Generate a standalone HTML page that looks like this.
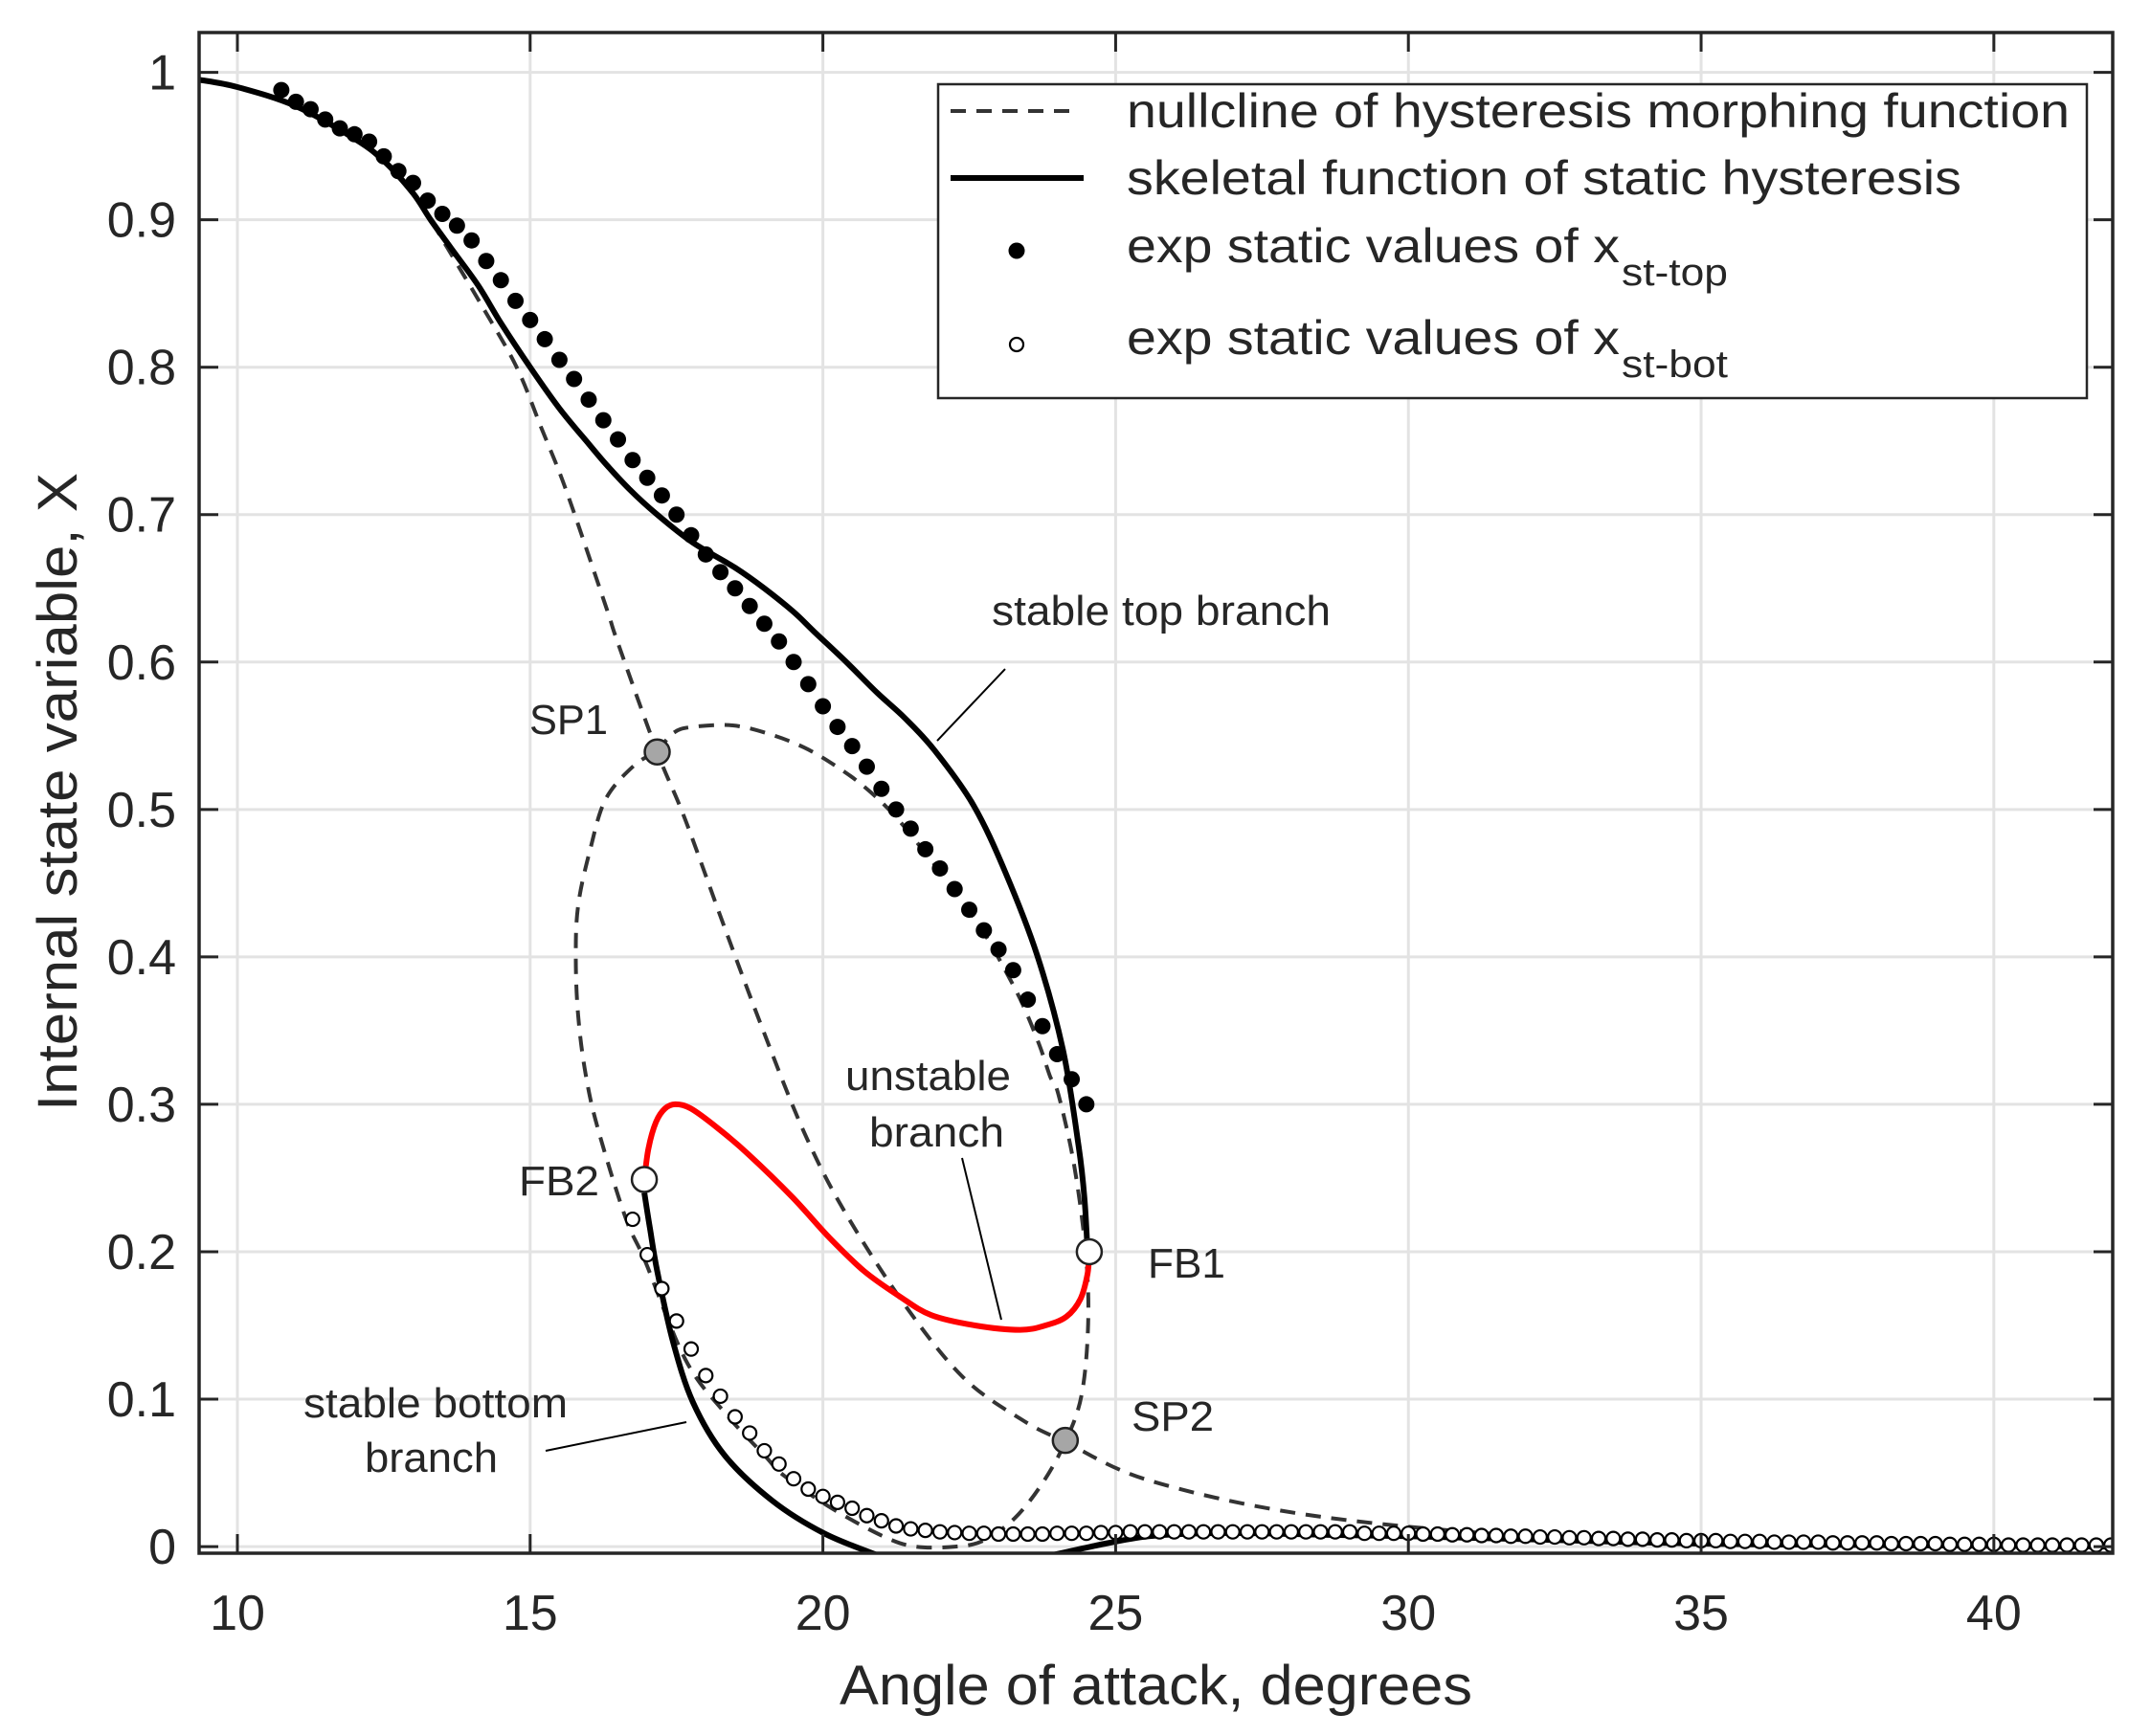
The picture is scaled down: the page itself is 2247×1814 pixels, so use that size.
<!DOCTYPE html>
<html><head><meta charset="utf-8"><style>
html,body{margin:0;padding:0;background:#fff}
svg{display:block}
text{font-family:"Liberation Sans",Arial,sans-serif;fill:#262626}
</style></head><body>
<svg id="chart" width="2247" height="1814" viewBox="0 0 2247 1814" xmlns="http://www.w3.org/2000/svg">
<defs><clipPath id="plotclip"><rect x="208" y="34" width="1999" height="1589"/></clipPath></defs>
<g id="grid"></g>
<g id="series" clip-path="url(#plotclip)"></g>
<g id="axes"></g>
</svg>
<script>
// ---- data ----
const xTicks = [10,15,20,25,30,35,40];
const yTicks = [0,0.1,0.2,0.3,0.4,0.5,0.6,0.7,0.8,0.9,1];
const yTickLabels = ["0","0.1","0.2","0.3","0.4","0.5","0.6","0.7","0.8","0.9","1"];

const topDotX = [10.75,11,11.25,11.5,11.75,12,12.25,12.5,12.75,13,13.25,13.5,13.75,14,14.25,14.5,14.75,15,15.25,15.5,15.75,16,16.25,16.5,16.75,17,17.25,17.5,17.75,18,18.25,18.5,18.75,19,19.25,19.5,19.75,20,20.25,20.5,20.75,21,21.25,21.5,21.75,22,22.25,22.5,22.75,23,23.25,23.5,23.75,24,24.25,24.5];
const topDotY = [0.988,0.980,0.975,0.968,0.962,0.958,0.953,0.943,0.933,0.925,0.913,0.904,0.896,0.886,0.872,0.859,0.845,0.832,0.819,0.805,0.792,0.778,0.764,0.751,0.737,0.725,0.713,0.700,0.686,0.673,0.661,0.650,0.638,0.626,0.614,0.600,0.585,0.570,0.556,0.543,0.529,0.514,0.500,0.487,0.473,0.460,0.446,0.432,0.418,0.405,0.391,0.371,0.353,0.334,0.317,0.300];

const botDotX = [16.75,17,17.25,17.5,17.75,18,18.25,18.5,18.75,19,19.25,19.5,19.75,20,20.25,20.5,20.75,21,21.25,21.5,21.75,22,22.25,22.5,22.75,23,23.25,23.5,23.75,24,24.25,24.5,24.75,25,25.25,25.5,25.75,26,26.25,26.5,26.75,27,27.25,27.5,27.75,28,28.25,28.5,28.75,29,29.25,29.5,29.75,30,30.25,30.5,30.75,31,31.25,31.5,31.75,32,32.25,32.5,32.75,33,33.25,33.5,33.75,34,34.25,34.5,34.75,35,35.25,35.5,35.75,36,36.25,36.5,36.75,37,37.25,37.5,37.75,38,38.25,38.5,38.75,39,39.25,39.5,39.75,40,40.25,40.5,40.75,41,41.25,41.5,41.75,42];
const botDotY = [0.222,0.198,0.175,0.153,0.134,0.116,0.102,0.088,0.077,0.065,0.056,0.046,0.039,0.034,0.030,0.026,0.021,0.0175,0.014,0.012,0.011,0.010,0.0095,0.009,0.009,0.0085,0.0085,0.0085,0.0085,0.009,0.009,0.009,0.0095,0.0095,0.010,0.010,0.010,0.010,0.010,0.010,0.010,0.010,0.010,0.010,0.010,0.010,0.010,0.010,0.010,0.010,0.009,0.009,0.009,0.009,0.0085,0.0085,0.008,0.008,0.0075,0.0075,0.007,0.007,0.0065,0.0065,0.006,0.006,0.0055,0.0055,0.005,0.005,0.0045,0.0045,0.004,0.004,0.004,0.0035,0.0035,0.0035,0.003,0.003,0.003,0.003,0.0025,0.0025,0.0025,0.0025,0.002,0.002,0.002,0.002,0.0015,0.0015,0.0015,0.0015,0.001,0.001,0.001,0.001,0.001,0.001,0.001,0.001];

const skelTopX = [9.35,10,11,12,12.5,13,13.3,13.7,14.12,14.5,15,15.5,16,16.3,16.7,17.17,17.78,18.5,19,19.5,19.84,20.4,20.93,21.4,21.91,22.57,23.11,23.66,24.1,24.37,24.47,24.52];
const skelTopY = [0.995,0.99,0.977,0.955,0.94,0.918,0.9,0.878,0.855,0.83,0.80,0.772,0.748,0.734,0.717,0.70,0.681,0.664,0.65,0.634,0.621,0.6,0.579,0.562,0.54,0.503,0.458,0.401,0.337,0.271,0.235,0.2];

const skelBotX = [16.95,17.05,17.17,17.44,17.78,18.32,19.14,20.02,20.94];
const skelBotY = [0.24,0.215,0.187,0.139,0.098,0.062,0.031,0.009,-0.006];

const skelLowX = [23.9,24.7,25.56,26.5,27.5,28.5,30,32,35,38,42.1];
const skelLowY = [-0.006,0.001,0.007,0.009,0.009,0.008,0.007,0.005,0.002,0.001,0.0];

const unstX = [16.95,17.02,17.15,17.3,17.48,17.75,18.2,18.73,19.48,20.1,20.7,21.3,21.85,22.6,23.37,23.8,24.16,24.4,24.52,24.55];
const unstY = [0.249,0.27,0.288,0.297,0.3,0.297,0.284,0.266,0.237,0.21,0.187,0.17,0.157,0.15,0.147,0.15,0.156,0.168,0.185,0.2];

const null1X = [12.5,13,13.3,13.6,14.2,14.77,15.2,15.62,16.3,16.49,17.17,17.65,18.32,19.0,19.68,20.36,21.38,22.39,23.4,24.14,25.56,28.2,31.7,35,42.1];
const null1Y = [0.94,0.918,0.9,0.88,0.84,0.80,0.758,0.716,0.637,0.614,0.539,0.493,0.42,0.348,0.281,0.228,0.165,0.115,0.086,0.071,0.045,0.022,0.008,0.004,0.001];

const null2X = [17.17,17.45,17.78,18.46,19.1,19.68,20.2,20.69,21.2,21.72,22.25,22.74,23.1,23.41,23.7,23.88,24.02,24.29,24.49,24.53,24.42,24.14,23.75,23.27,22.74,22.26,21.58,21.03,20.15,19.34,19.0,18.32,17.65,16.96,16.63,16.16,15.95,15.82,15.78,15.82,16.02,16.29,16.78,17.17];
const null2Y = [0.539,0.552,0.556,0.557,0.551,0.542,0.53,0.516,0.497,0.472,0.445,0.417,0.392,0.368,0.34,0.319,0.307,0.259,0.199,0.151,0.103,0.071,0.043,0.019,0.004,0.0,0.0,0.007,0.026,0.048,0.062,0.091,0.127,0.194,0.223,0.283,0.32,0.36,0.40,0.435,0.472,0.507,0.53,0.539];

const spX = [17.17,24.14];
const spY = [0.539,0.072];
const fbX = [24.55,16.95];
const fbY = [0.2,0.249];

// ---- scales ----
const X0=9.346, X1=42.03, PX0=208, PX1=2207;
const Y0=-0.0045, Y1=1.027, PY0=1623, PY1=34;
function sx(v){return PX0+(v-X0)/(X1-X0)*(PX1-PX0);}
function sy(v){return PY0-(v-Y0)/(Y1-Y0)*(PY0-PY1);}
const NS="http://www.w3.org/2000/svg";
function mk(tag,attrs,parent){const e=document.createElementNS(NS,tag);for(const k in attrs)e.setAttribute(k,attrs[k]);parent.appendChild(e);return e;}
function smoothD(xs,ys){
  const p=xs.map((v,i)=>[sx(v),sy(ys[i])]);
  let d="M"+p[0][0].toFixed(1)+","+p[0][1].toFixed(1);
  for(let i=0;i<p.length-1;i++){
    const p0=p[i-1]||p[i],p1=p[i],p2=p[i+1],p3=p[i+2]||p2;
    const c1=[p1[0]+(p2[0]-p0[0])/6,p1[1]+(p2[1]-p0[1])/6];
    const c2=[p2[0]-(p3[0]-p1[0])/6,p2[1]-(p3[1]-p1[1])/6];
    d+=" C"+c1[0].toFixed(1)+","+c1[1].toFixed(1)+" "+c2[0].toFixed(1)+","+c2[1].toFixed(1)+" "+p2[0].toFixed(1)+","+p2[1].toFixed(1);
  }
  return d;
}
const grid=document.getElementById('grid');
const ser=document.getElementById('series');
const axes=document.getElementById('axes');

xTicks.forEach(t=>{const l=mk('line',{x1:sx(t),x2:sx(t),y1:PY1,y2:PY0,stroke:'#e3e3e3','stroke-width':3},grid);

});
yTicks.forEach(t=>{const l=mk('line',{x1:PX0,x2:PX1,y1:sy(t),y2:sy(t),stroke:'#e3e3e3','stroke-width':3},grid);

});

let e;
e=mk('path',{d:smoothD(null1X,null1Y),fill:'none',stroke:'#333','stroke-width':4,'stroke-dasharray':'16 11'},ser);


e=mk('path',{d:smoothD(null2X,null2Y),fill:'none',stroke:'#333','stroke-width':4,'stroke-dasharray':'16 11'},ser);


e=mk('path',{d:smoothD(skelTopX,skelTopY),fill:'none',stroke:'#000','stroke-width':6},ser);


e=mk('path',{d:smoothD(skelBotX,skelBotY),fill:'none',stroke:'#000','stroke-width':6},ser);


e=mk('path',{d:smoothD(skelLowX,skelLowY),fill:'none',stroke:'#000','stroke-width':6},ser);


e=mk('path',{d:smoothD(unstX,unstY),fill:'none',stroke:'#000','stroke-width':4},ser);


e=mk('path',{d:smoothD(unstX,unstY),fill:'none',stroke:'#ff0000','stroke-width':6},ser);



topDotX.forEach((v,i)=>{const c=mk('circle',{cx:sx(v),cy:sy(topDotY[i]),r:8.5,fill:'#000'},ser);

});
botDotX.forEach((v,i)=>{const c=mk('circle',{cx:sx(v),cy:sy(botDotY[i]),r:7,fill:'#fff',stroke:'#000','stroke-width':2.2},ser);

});

spX.forEach((v,i)=>{const c=mk('circle',{cx:sx(v),cy:sy(spY[i]),r:13,fill:'#a6a6a6',stroke:'#222','stroke-width':2.5},ser);

});
fbX.forEach((v,i)=>{const c=mk('circle',{cx:sx(v),cy:sy(fbY[i]),r:13,fill:'#fff',stroke:'#222','stroke-width':2.5},ser);

});

e=mk('rect',{x:PX0,y:PY1,width:PX1-PX0,height:PY0-PY1,fill:'none',stroke:'#262626','stroke-width':3.5},axes);


xTicks.forEach(t=>{
  const x=sx(t);
  let l=mk('line',{x1:x,x2:x,y1:PY0,y2:PY0-20,stroke:'#262626','stroke-width':3},axes);
  
  
  l=mk('line',{x1:x,x2:x,y1:PY1,y2:PY1+20,stroke:'#262626','stroke-width':3},axes);
  
  
  const tx=mk('text',{x:x,y:1703,'text-anchor':'middle','font-size':52},axes);
  tx.textContent=String(t);
  
  
});
yTicks.forEach((t,i)=>{
  const y=sy(t);
  let l=mk('line',{x1:PX0,x2:PX0+20,y1:y,y2:y,stroke:'#262626','stroke-width':3},axes);
  
  
  l=mk('line',{x1:PX1,x2:PX1-20,y1:y,y2:y,stroke:'#262626','stroke-width':3},axes);
  
  
  const tx=mk('text',{x:184,y:y+18,'text-anchor':'end','font-size':52},axes);
  tx.textContent=yTickLabels[i];
  
  
});
</script>
<svg width="2247" height="1814" style="position:absolute;left:0;top:0" xmlns="http://www.w3.org/2000/svg">
<text x="877" y="1781" font-size="58" textLength="661" lengthAdjust="spacingAndGlyphs">Angle of attack, degrees</text>
<text transform="translate(80,1161) rotate(-90)" font-size="58" textLength="667" lengthAdjust="spacingAndGlyphs">Internal state variable, X</text>

<g>
<rect x="980" y="88" width="1200" height="328" fill="#fff" stroke="#262626" stroke-width="2.5"/>
<line x1="993" y1="116" x2="1125" y2="116" stroke="#333" stroke-width="4" stroke-dasharray="16 11"/>
<text x="1177" y="133" font-size="50" textLength="985" lengthAdjust="spacingAndGlyphs">nullcline of hysteresis morphing function</text>
<line x1="993" y1="186" x2="1132" y2="186" stroke="#000" stroke-width="6"/>
<text x="1177" y="203" font-size="50" textLength="872" lengthAdjust="spacingAndGlyphs">skeletal function of static hysteresis</text>
<circle cx="1062" cy="262" r="8.5" fill="#000"/>
<text x="1177" y="274" font-size="50" textLength="515" lengthAdjust="spacingAndGlyphs">exp static values of x</text>
<text x="1694" y="298" font-size="40" textLength="111" lengthAdjust="spacingAndGlyphs">st-top</text>
<circle cx="1062" cy="360" r="7" fill="#fff" stroke="#000" stroke-width="2.2"/>
<text x="1177" y="370" font-size="50" textLength="515" lengthAdjust="spacingAndGlyphs">exp static values of x</text>
<text x="1694" y="394" font-size="40" textLength="111" lengthAdjust="spacingAndGlyphs">st-bot</text>
</g>

<g>
<text x="1036" y="653" font-size="44" textLength="354" lengthAdjust="spacingAndGlyphs">stable top branch</text>
<line x1="1050" y1="699" x2="979" y2="774" stroke="#000" stroke-width="2"/>
<text x="553" y="767" font-size="44" textLength="82" lengthAdjust="spacingAndGlyphs">SP1</text>
<text x="883" y="1139" font-size="44" textLength="173" lengthAdjust="spacingAndGlyphs">unstable</text>
<text x="908" y="1198" font-size="44" textLength="141" lengthAdjust="spacingAndGlyphs">branch</text>
<line x1="1005" y1="1210" x2="1046" y2="1379" stroke="#000" stroke-width="2"/>
<text x="542" y="1249" font-size="44" textLength="84" lengthAdjust="spacingAndGlyphs">FB2</text>
<text x="1199" y="1335" font-size="44" textLength="81" lengthAdjust="spacingAndGlyphs">FB1</text>
<text x="1182" y="1495" font-size="44" textLength="86" lengthAdjust="spacingAndGlyphs">SP2</text>
<text x="317" y="1481" font-size="44" textLength="276" lengthAdjust="spacingAndGlyphs">stable bottom</text>
<text x="381" y="1538" font-size="44" textLength="139" lengthAdjust="spacingAndGlyphs">branch</text>
<line x1="570" y1="1516" x2="717" y2="1486" stroke="#000" stroke-width="2"/>
</g>
</svg>
</body></html>
